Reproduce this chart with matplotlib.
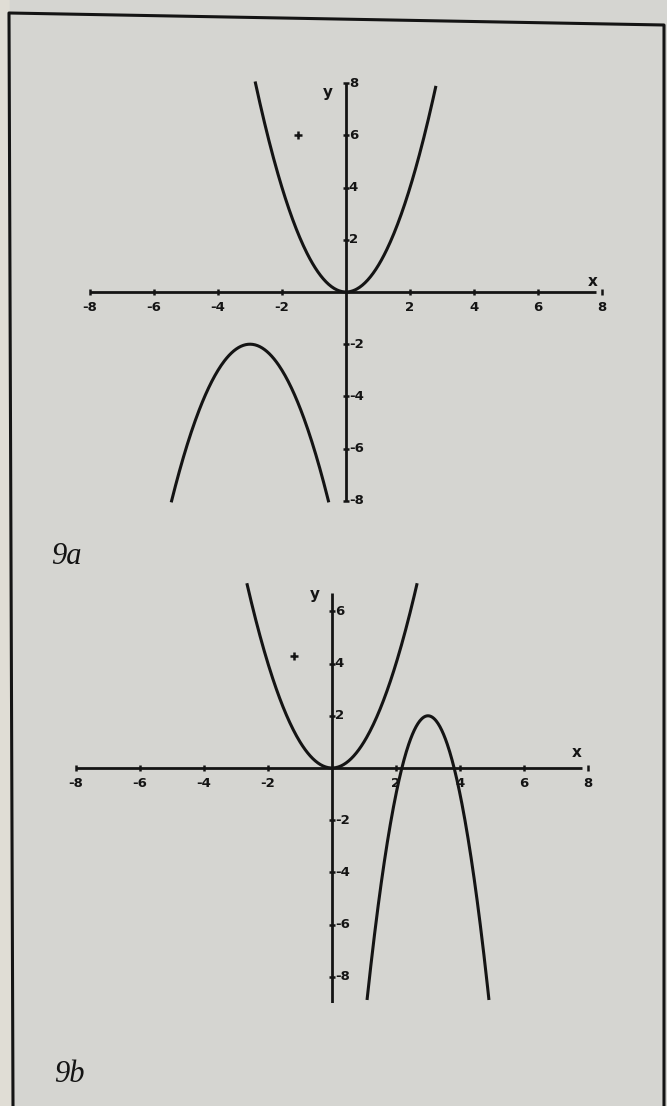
import numpy as np
import matplotlib.pyplot as plt
from matplotlib.lines import Line2D

W, H = 667, 1106
ink = '#141414'
paper = '#d5d5d1'

# parabolas y = a*(x - h)**2 + k, drawn over [x_lo, x_hi]
a_9a = [1, -1]
h_9a = [0, -3]
k_9a = [0, -2]
x_lo_9a = [-2.83, -5.45]
x_hi_9a = [2.8, -0.55]

a_9b = [1, -3]
h_9b = [0, 3]
k_9b = [0, 2]
x_lo_9b = [-2.65, 1.1]
x_hi_9b = [2.65, 4.9]

x_ticks = [-8, -6, -4, -2, 2, 4, 6, 8]
y_ticks_9a = [8, 6, 4, 2, -2, -4, -6, -8]
y_ticks_9b = [6, 4, 2, -2, -4, -6, -8]

# extent of the drawn axes
x_axis_9a = [-8, 7.8]
y_axis_9a = [-8, 8]
x_axis_9b = [-8, 7.8]
y_axis_9b = [-9, 6.7]

cursor_9a = [-1.5, 6]
cursor_9b = [-1.2, 4.3]


def px_axes(fig, left, top, width, height):
    return fig.add_axes([left / W, 1 - (top + height) / H, width / W, height / H])


def draw_graph(ax, a, h, k, x_lo, x_hi, y_ticks, x_axis, y_axis, cursor, ylab_pos, xlab_pos):
    ax.set_xlim(-9, 9)
    ax.set_ylim(-9, 9)
    ax.axis('off')

    ax.plot(x_axis, [0, 0], color=ink, lw=2.0, solid_capstyle='butt')
    ax.plot([0, 0], y_axis, color=ink, lw=2.0, solid_capstyle='butt')

    ax.plot(x_ticks, [0] * len(x_ticks), ls='none', marker='|', ms=5, mew=1.8, color=ink)
    ax.plot([0] * len(y_ticks), y_ticks, ls='none', marker='_', ms=5, mew=1.8, color=ink)

    for t in x_ticks:
        ax.annotate(str(t), (t, 0), xytext=(0, -11), textcoords='offset points',
                    ha='center', va='center', fontsize=9.5, fontweight='bold', color=ink)
    for t in y_ticks:
        ax.annotate(str(t), (0, t), xytext=(2, 0), textcoords='offset points',
                    ha='left', va='center', fontsize=9.5, fontweight='bold', color=ink)

    for ai, hi, ki, lo, hi_x in zip(a, h, k, x_lo, x_hi):
        xs = np.linspace(lo, hi_x, 200)
        ax.plot(xs, ai * (xs - hi) ** 2 + ki, color=ink, lw=2.2)

    ax.plot(*cursor, marker='+', ms=6, mew=1.8, color=ink)
    ax.text(*ylab_pos, 'y', ha='center', va='center', fontsize=11, fontweight='bold', color=ink)
    ax.text(*xlab_pos, 'x', ha='center', va='center', fontsize=11, fontweight='bold', color=ink)


fig = plt.figure(figsize=(W / 100, H / 100), dpi=100, facecolor=paper)

# pale margin outside the box and the box itself
fig.patches.append(plt.Polygon([(0, 0), (11 / W, 0), (9 / W, 1), (0, 1)],
                               transform=fig.transFigure, color='#e0ddd5', zorder=0))
frame_x = [13 / W, 9 / W, 664 / W, 664 / W]
frame_y = [0, 1 - 13 / H, 1 - 25 / H, 0]
fig.lines.append(Line2D(frame_x, frame_y, transform=fig.transFigure, color=ink, lw=2.2))

scale_x, scale_y = 32.0, 26.1
ax_a = px_axes(fig, 346 - 9 * scale_x, 292 - 9 * scale_y, 18 * scale_x, 18 * scale_y)
draw_graph(ax_a, a_9a, h_9a, k_9a, x_lo_9a, x_hi_9a, y_ticks_9a, x_axis_9a, y_axis_9a,
           cursor_9a, (-0.56, 7.65), (7.7, 0.4))

ax_b = px_axes(fig, 332 - 9 * scale_x, 768 - 9 * scale_y, 18 * scale_x, 18 * scale_y)
draw_graph(ax_b, a_9b, h_9b, k_9b, x_lo_9b, x_hi_9b, y_ticks_9b, x_axis_9b, y_axis_9b,
           cursor_9b, (-0.53, 6.65), (7.65, 0.6))

fig.text(51 / W, 1 - 556 / H, '9a', family='Liberation Serif', style='italic',
         fontsize=22, ha='left', va='center', color=ink)
fig.text(54 / W, 1 - 1075 / H, '9b', family='Liberation Serif', style='italic',
         fontsize=22, ha='left', va='center', color=ink)

fig.savefig('out.png', dpi=100, facecolor=paper)
